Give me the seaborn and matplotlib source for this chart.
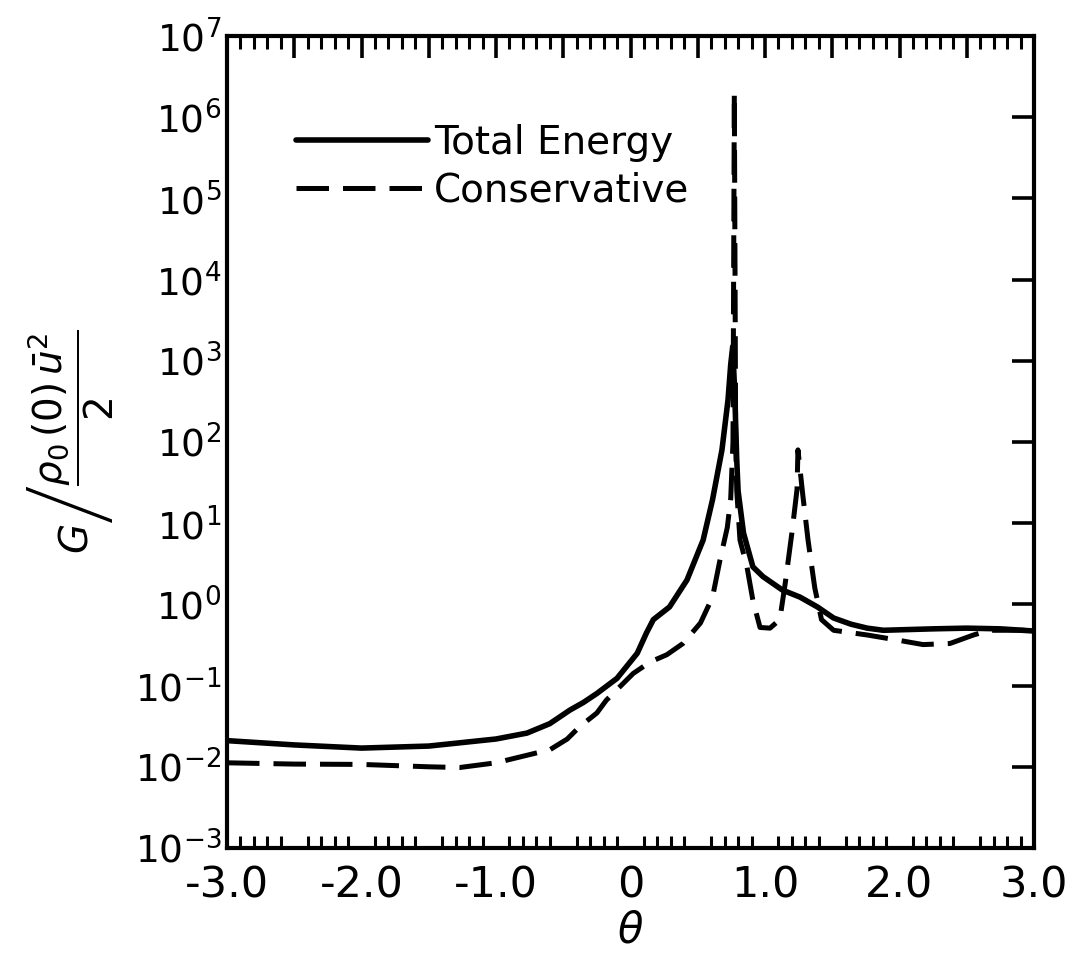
import matplotlib; matplotlib.use("Agg")
import matplotlib.pyplot as plt
import pandas as pd, numpy as np
import seaborn as sns
from matplotlib.ticker import FixedLocator, NullLocator, MultipleLocator

# ── data ─────────────────────────────────────────────────────────────────────
THETA_TOTAL = [-3.0, -2.5, -2.0, -1.5, -1.0, -0.77, -0.6, -0.45, -0.35, -0.25,
               -0.10, 0.05, 0.12, 0.17, 0.29, 0.42, 0.54, 0.61, 0.68, 0.70,
               0.725, 0.745, 0.76, 0.775, 0.79, 0.80, 0.84, 0.91, 0.985, 1.13,
               1.26, 1.39, 1.51, 1.64, 1.76, 1.88, 2.25, 2.5, 2.75, 3.0]
G_TOTAL = [0.021, 0.0186, 0.017, 0.018, 0.022, 0.026, 0.034, 0.050, 0.062, 0.080,
           0.123, 0.25, 0.45, 0.65, 0.93, 2.0, 6.2, 19.5, 80, 150,
           330, 900, 1500, 400, 60, 25, 7.6, 2.9, 2.2, 1.5,
           1.23, 0.93, 0.68, 0.57, 0.51, 0.48, 0.50, 0.51, 0.50, 0.47]

THETA_CONS = [-3.0, -2.5, -2.0, -1.5, -1.27, -1.0, -0.7, -0.6, -0.47, -0.38,
              -0.25, -0.18, 0.02, 0.145, 0.27, 0.39, 0.52, 0.61, 0.665, 0.72,
              0.745, 0.762, 0.772, 0.782, 0.79, 0.814, 0.866, 0.91, 0.963, 1.037,
              1.11, 1.15, 1.20, 1.238, 1.245, 1.28, 1.32, 1.37, 1.42, 1.51,
              1.76, 2.0, 2.175, 2.375, 2.55, 2.67, 3.0]
G_CONS = [0.0112, 0.0108, 0.0107, 0.0100, 0.0098, 0.0112, 0.0148, 0.0162, 0.022, 0.031,
          0.046, 0.066, 0.141, 0.195, 0.24, 0.33, 0.59, 1.23, 3.5, 8.9,
          20, 100, 2.0e6, 100, 25, 6.2, 2.9, 1.12, 0.52, 0.51,
          0.65, 1.8, 7.6, 26, 80, 23, 6.2, 1.6, 0.65, 0.48,
          0.42, 0.36, 0.32, 0.33, 0.42, 0.48, 0.48]

XTICKS = [-3.0, -2.5, -2.0, -1.5, -1.0, -0.5, 0.0, 0.5, 1.0, 1.5, 2.0, 2.5, 3.0]
XTICK_LABELS = ['-3.0', '', '-2.0', '', '-1.0', '', '0', '', '1.0', '', '2.0', '', '3.0']
YTICKS = [1e-3, 1e-2, 1e-1, 1e0, 1e1, 1e2, 1e3, 1e4, 1e5, 1e6, 1e7]
YTICK_LABELS = [r'$10^{-3}$', r'$10^{-2}$', r'$10^{-1}$', r'$10^{0}$', r'$10^{1}$',
                r'$10^{2}$', r'$10^{3}$', r'$10^{4}$', r'$10^{5}$', r'$10^{6}$',
                r'$10^{7}$']

sns.set_theme(style="white")
plt.rcParams['font.family'] = ['DejaVu Sans']
plt.rcParams['mathtext.fontset'] = 'dejavusans'
plt.rcParams['axes.edgecolor'] = 'black'
plt.rcParams['axes.linewidth'] = 3.0
plt.rcParams['text.color'] = 'black'
plt.rcParams['axes.labelcolor'] = 'black'

fig = plt.figure(figsize=(10.69, 9.56), dpi=100)
ax = fig.add_axes([227/1069, 1 - 848/956, (1034-227)/1069, (848-36)/956])

total = pd.DataFrame({"theta": THETA_TOTAL, "G": G_TOTAL})
cons = pd.DataFrame({"theta": THETA_CONS, "G": G_CONS})

sns.lineplot(data=total, x="theta", y="G", ax=ax, color="black", linewidth=4.0,
             estimator=None, sort=False, label="Total Energy")
sns.lineplot(data=cons, x="theta", y="G", ax=ax, color="black", linewidth=3.6,
             estimator=None, sort=False, label="Conservative",
             dashes=False, linestyle=(0, (6.5, 2.8)))

ax.set_yscale("log")
ax.set_xlim(-3.0, 3.0)
ax.set_ylim(1e-3, 1e7)

ax.xaxis.set_major_locator(FixedLocator(XTICKS))
ax.set_xticklabels(XTICK_LABELS, fontsize=31)
ax.xaxis.set_minor_locator(MultipleLocator(0.1))
ax.yaxis.set_major_locator(FixedLocator(YTICKS))
ax.set_yticklabels(YTICK_LABELS, fontsize=27)
ax.yaxis.set_minor_locator(NullLocator())

ax.tick_params(axis='both', which='major', direction='in', length=16, width=2.6,
               top=True, right=True, colors='black')
ax.tick_params(axis='x', which='major', pad=12)
ax.tick_params(axis='y', which='major', pad=4)
ax.tick_params(axis='x', which='minor', direction='in', length=9, width=2.2,
               top=True, bottom=True, colors='black')

ax.set_xlabel(r'$\theta$', fontsize=30, labelpad=2)
ax.set_ylabel(r'$G\left/\dfrac{\rho_0\,(0)\,\bar{u}^2}{2}\right.$', fontsize=28,
              labelpad=14)

leg = ax.legend(loc='upper left', bbox_to_anchor=(0.061, 0.916), frameon=False,
                fontsize=28, handlelength=3.4, handletextpad=0.15,
                labelspacing=0.25, borderpad=0, labelcolor='black')
leg.get_lines()[0].set_linewidth(4.0)
leg.get_lines()[1].set_linewidth(3.6)

fig.savefig("out.png", dpi=100)
